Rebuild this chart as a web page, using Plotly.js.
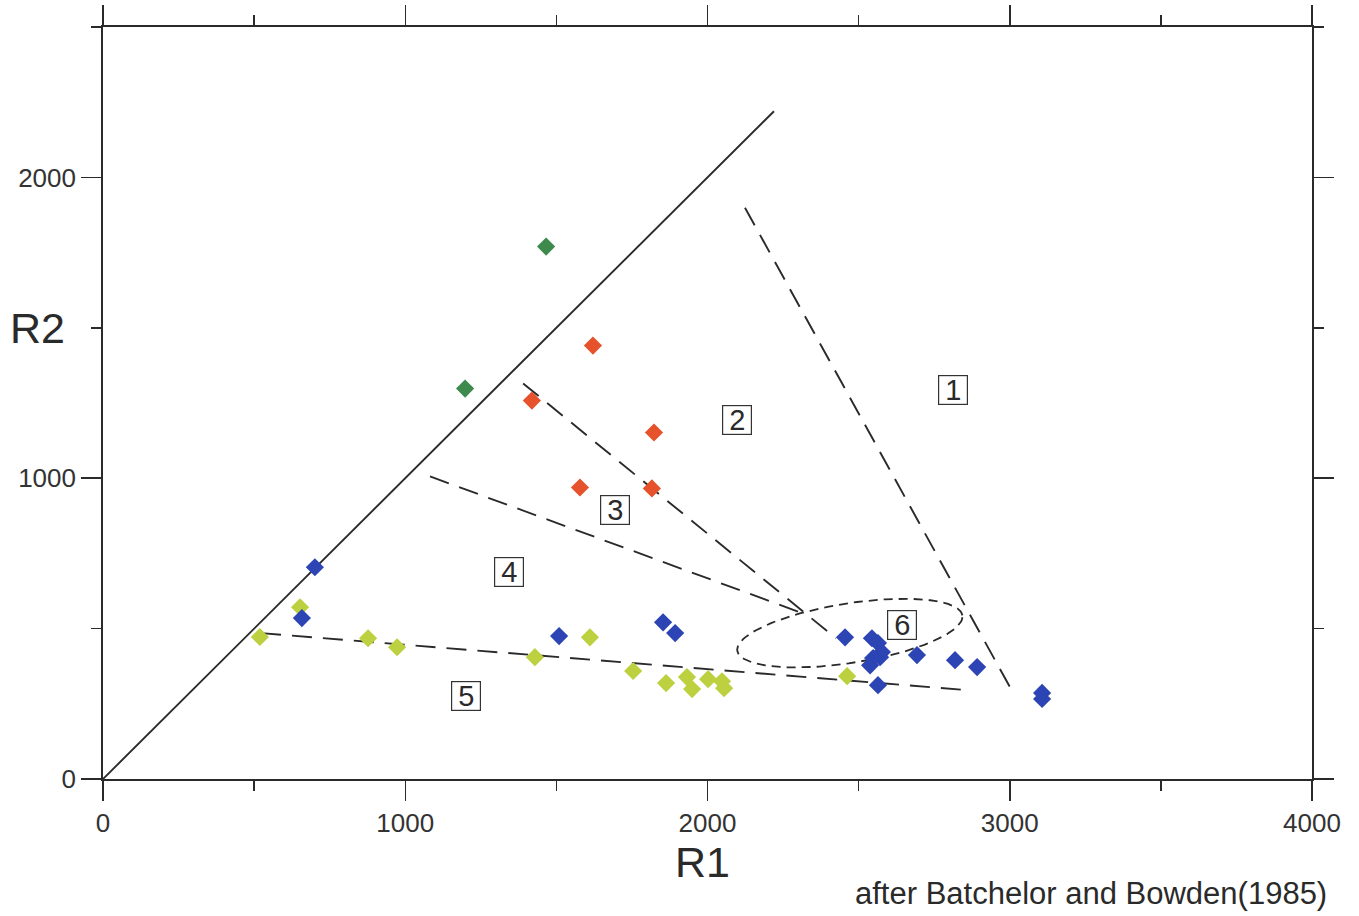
<!DOCTYPE html>
<html>
<head>
<meta charset="utf-8">
<script src="https://cdn.plot.ly/plotly-3.0.1.min.js"></script>
<style>html,body{margin:0;padding:0;background:#fff;}</style>
</head>
<body>
<div id="chart" style="width:1359px;height:916px;"></div>
<script>
// ---- data (R1, R2) ----
const greenR1 = [1466, 1198];
const greenR2 = [1770, 1298];
const redR1 = [1621, 1419, 1823, 1578, 1816];
const redR2 = [1441, 1258, 1152, 969, 966];
const blueR1 = [701, 658, 1509, 1853, 1893, 2455, 2544, 2564, 2577, 2571, 2548, 2538, 2693, 2819, 2892, 2564, 3107, 3107];
const blueR2 = [704, 535, 475, 521, 485, 471, 468, 452, 422, 405, 402, 378, 412, 395, 372, 312, 286, 266];
const yellowR1 = [519, 652, 877, 973, 1429, 1611, 1754, 1863, 1932, 1949, 2002, 2048, 2055, 2462];
const yellowR2 = [472, 571, 468, 438, 405, 471, 359, 319, 339, 299, 332, 325, 302, 342];

// boundary lines
const solidX = [0, 2220];
const solidY = [0, 2220];
const line1X = [2124, 3001];
const line1Y = [1899, 305];
const line2X = [1390, 2425];
const line2Y = [1315, 468];
const line3X = [1082, 2323];
const line3Y = [1006, 548];
const line5X = [523, 2865];
const line5Y = [485, 295];

// field 6 ellipse: centre, semi-axes, tilt (degrees)
const ellipseCenter = [2471, 485];
const ellipseAxes = [377, 99];
const ellipseTilt = 9;

// field labels
const fieldLabels = ['1', '2', '3', '4', '5', '6'];
const fieldLabelR1 = [2811, 2098, 1694, 1343, 1201, 2644];
const fieldLabelR2 = [1292, 1195, 893, 687, 277, 511];

const xTickVals = [0, 1000, 2000, 3000, 4000];
const yTickVals = [0, 1000, 2000];

// ellipse outline
const ex = [], ey = [];
const th = ellipseTilt * Math.PI / 180;
for (let i = 0; i <= 120; i++) {
  const t = 2 * Math.PI * i / 120;
  const u = ellipseAxes[0] * Math.cos(t), v = ellipseAxes[1] * Math.sin(t);
  ex.push(ellipseCenter[0] + u * Math.cos(th) - v * Math.sin(th));
  ey.push(ellipseCenter[1] + u * Math.sin(th) + v * Math.cos(th));
}

const lineCol = '#2a2a2a';
const dashLong = '20px,11px';
function dashed(x, y) {
  return {x: x, y: y, type: 'scatter', mode: 'lines', showlegend: false, hoverinfo: 'skip',
          line: {color: lineCol, width: 1.9, dash: dashLong}};
}
function pts(x, y, c) {
  return {x: x, y: y, type: 'scatter', mode: 'markers', showlegend: false,
          marker: {symbol: 'diamond', size: 14, color: c, line: {width: 0}}};
}

const traces = [
  {x: solidX, y: solidY, type: 'scatter', mode: 'lines', showlegend: false, hoverinfo: 'skip',
   line: {color: lineCol, width: 1.9}},
  dashed(line1X, line1Y),
  dashed(line2X, line2Y),
  dashed(line3X, line3Y),
  dashed(line5X, line5Y),
  {x: ex, y: ey, type: 'scatter', mode: 'lines', showlegend: false, hoverinfo: 'skip',
   line: {color: lineCol, width: 1.8, dash: '9px,6px'}},
  pts(yellowR1, yellowR2, '#bdd140'),
  pts(greenR1, greenR2, '#3e8a4c'),
  pts(redR1, redR2, '#e5522b'),
  pts(blueR1, blueR2, '#2c44b4')
];

const fam = 'Liberation Sans, Arial, sans-serif';
const annotations = fieldLabels.map((t, i) => ({
  x: fieldLabelR1[i], y: fieldLabelR2[i], xref: 'x', yref: 'y', text: t, showarrow: false,
  font: {family: fam, size: 29, color: '#2a2a2a'},
  bordercolor: '#333', borderwidth: 1.2, borderpad: 0, width: 28, height: 28, bgcolor: 'rgba(255,255,255,0)'
}));
annotations.push({x: 0, y: 1500, xref: 'paper', yref: 'y', xanchor: 'center', yanchor: 'middle',
  xshift: -66, text: 'R2', showarrow: false,
  font: {family: fam, size: 43, color: '#2a2a2a'}});
annotations.push({x: 1985, y: 0, xref: 'x', yref: 'paper', xanchor: 'center', yanchor: 'middle',
  yshift: -83, text: 'R1', showarrow: false,
  font: {family: fam, size: 43, color: '#2a2a2a'}});
annotations.push({x: 1, y: 0, xref: 'paper', yref: 'paper', xanchor: 'right', yanchor: 'middle',
  xshift: 17, yshift: -114, text: 'after Batchelor and Bowden(1985)', showarrow: false,
  font: {family: fam, size: 31, color: '#2a2a2a'}});

const axisCommon = {
  showgrid: false, zeroline: false, showline: true, linecolor: lineCol, linewidth: 1.8,
  mirror: 'ticks', ticks: 'outside', ticklen: 20, tickwidth: 1.5, tickcolor: lineCol,
  tickfont: {family: fam, size: 26, color: '#333'},
  minor: {dtick: 500, ticks: 'outside', ticklen: 10, tickwidth: 1.5, tickcolor: lineCol, showgrid: false}
};

const layout = {
  width: 1359, height: 916,
  margin: {l: 103, r: 47, t: 27, b: 137},
  paper_bgcolor: '#ffffff', plot_bgcolor: '#ffffff',
  showlegend: false,
  xaxis: Object.assign({}, axisCommon, {range: [0, 4000], tickmode: 'array', tickvals: xTickVals,
    ticktext: xTickVals.map(String)}),
  yaxis: Object.assign({}, axisCommon, {range: [0, 2500], tickmode: 'array', tickvals: yTickVals,
    ticktext: yTickVals.map(String)}),
  annotations: annotations
};

Plotly.newPlot('chart', traces, layout, {displayModeBar: false, staticPlot: true});
</script>
</body>
</html>
